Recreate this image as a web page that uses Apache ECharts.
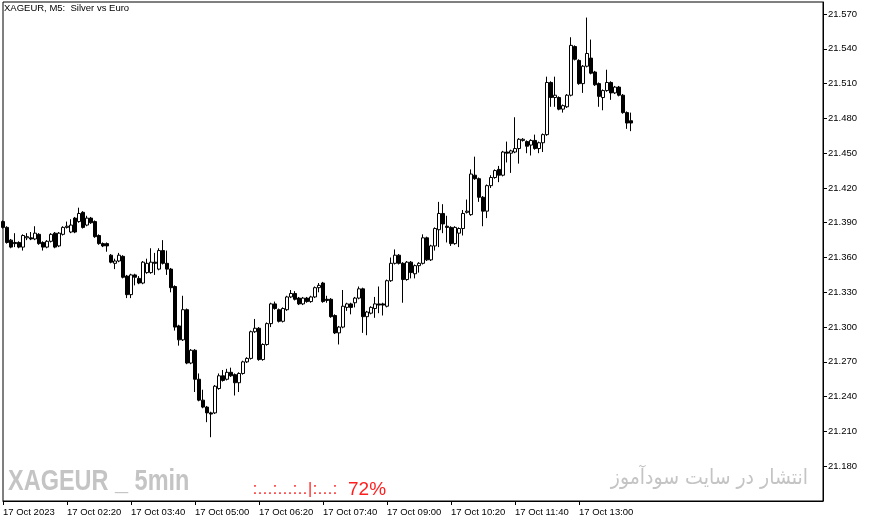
<!DOCTYPE html>
<html><head><meta charset="utf-8">
<script src="https://cdn.jsdelivr.net/npm/echarts@6/dist/echarts.min.js"></script>
<style>html,body{margin:0;padding:0;background:#fff}#c{width:871px;height:522px}</style>
</head><body><div id="c"></div>
<script>
const opens = [
21.391,21.386,21.375,21.373,21.373,21.369,21.377,21.377,21.376,21.380,
21.373,21.369,21.374,21.381,21.370,21.380,21.386,21.382,21.394,21.391,
21.399,21.388,21.394,21.391,21.379,21.372,21.372,21.362,21.355,21.357,
21.361,21.344,21.328,21.345,21.342,21.338,21.347,21.347,21.356,21.350,
21.366,21.355,21.350,21.335,21.301,21.289,21.315,21.269,21.280,21.255,
21.237,21.231,21.226,21.226,21.247,21.258,21.255,21.261,21.259,21.252,
21.260,21.270,21.273,21.296,21.299,21.272,21.285,21.303,21.320,21.315,
21.305,21.315,21.326,21.329,21.325,21.320,21.325,21.322,21.326,21.334,
21.338,21.324,21.324,21.310,21.295,21.300,21.317,21.320,21.321,21.325,
21.333,21.309,21.312,21.316,21.320,21.320,21.318,21.340,21.355,21.362,
21.355,21.341,21.356,21.346,21.353,21.355,21.377,21.358,21.370,21.384,
21.398,21.387,21.386,21.372,21.381,21.385,21.399,21.397,21.431,21.428,
21.412,21.400,21.422,21.429,21.436,21.431,21.451,21.450,21.451,21.454,
21.461,21.460,21.457,21.461,21.454,21.459,21.466,21.511,21.498,21.498,
21.488,21.490,21.500,21.542,21.530,21.510,21.525,21.532,21.520,21.510,
21.498,21.504,21.511,21.502,21.507,21.500,21.485,21.478];
const closes = [
21.386,21.373,21.369,21.372,21.369,21.379,21.378,21.376,21.381,21.372,
21.369,21.374,21.380,21.369,21.381,21.386,21.387,21.388,21.382,21.398,
21.386,21.394,21.390,21.378,21.372,21.370,21.370,21.356,21.357,21.362,
21.343,21.328,21.345,21.343,21.338,21.356,21.355,21.356,21.355,21.366,
21.355,21.350,21.334,21.300,21.289,21.315,21.269,21.280,21.255,21.237,
21.231,21.226,21.225,21.249,21.258,21.254,21.261,21.258,21.252,21.260,
21.270,21.273,21.296,21.299,21.272,21.285,21.303,21.320,21.316,21.305,
21.316,21.326,21.329,21.324,21.320,21.325,21.322,21.326,21.334,21.336,
21.322,21.323,21.309,21.295,21.300,21.318,21.320,21.317,21.325,21.333,
21.309,21.313,21.317,21.320,21.319,21.319,21.340,21.355,21.362,21.355,
21.341,21.356,21.347,21.353,21.355,21.377,21.358,21.370,21.385,21.398,
21.389,21.386,21.372,21.386,21.385,21.398,21.400,21.432,21.428,21.412,
21.400,21.422,21.429,21.435,21.431,21.451,21.450,21.452,21.454,21.462,
21.462,21.456,21.461,21.454,21.459,21.466,21.511,21.498,21.500,21.488,
21.491,21.500,21.543,21.531,21.510,21.525,21.536,21.519,21.509,21.499,
21.504,21.511,21.502,21.507,21.500,21.485,21.476,21.476];
const lows = [
21.385,21.372,21.368,21.369,21.368,21.366,21.375,21.375,21.375,21.371,
21.366,21.368,21.373,21.368,21.369,21.379,21.385,21.381,21.381,21.390,
21.385,21.387,21.389,21.377,21.371,21.369,21.365,21.355,21.350,21.356,
21.342,21.325,21.325,21.336,21.337,21.337,21.346,21.346,21.345,21.349,
21.354,21.345,21.330,21.297,21.284,21.288,21.268,21.268,21.244,21.236,
21.230,21.218,21.205,21.225,21.246,21.253,21.254,21.257,21.241,21.244,
21.259,21.269,21.272,21.295,21.271,21.271,21.284,21.300,21.315,21.304,
21.304,21.314,21.325,21.323,21.319,21.319,21.321,21.321,21.325,21.330,
21.321,21.321,21.308,21.294,21.285,21.299,21.314,21.311,21.317,21.324,
21.295,21.293,21.311,21.308,21.312,21.310,21.317,21.339,21.354,21.354,
21.321,21.340,21.342,21.342,21.347,21.354,21.357,21.357,21.366,21.369,
21.381,21.373,21.370,21.371,21.369,21.379,21.398,21.396,21.427,21.408,
21.387,21.394,21.420,21.428,21.425,21.430,21.442,21.433,21.450,21.441,
21.460,21.450,21.448,21.453,21.450,21.451,21.465,21.490,21.490,21.487,
21.485,21.489,21.499,21.530,21.509,21.502,21.524,21.518,21.508,21.490,
21.487,21.503,21.496,21.501,21.499,21.484,21.471,21.469];
const highs = [
21.392,21.387,21.376,21.381,21.374,21.380,21.381,21.382,21.387,21.381,
21.374,21.375,21.381,21.382,21.382,21.387,21.391,21.393,21.395,21.403,
21.400,21.396,21.395,21.392,21.380,21.373,21.373,21.363,21.359,21.364,
21.362,21.345,21.346,21.346,21.344,21.357,21.359,21.368,21.364,21.368,
21.375,21.366,21.351,21.336,21.302,21.327,21.316,21.281,21.281,21.260,
21.246,21.232,21.227,21.250,21.260,21.263,21.264,21.265,21.260,21.261,
21.271,21.274,21.297,21.307,21.300,21.286,21.304,21.321,21.322,21.316,
21.317,21.327,21.332,21.331,21.326,21.326,21.326,21.327,21.335,21.338,
21.339,21.327,21.325,21.311,21.301,21.332,21.321,21.321,21.326,21.335,
21.334,21.314,21.318,21.326,21.335,21.321,21.341,21.360,21.367,21.363,
21.356,21.357,21.357,21.354,21.356,21.380,21.378,21.371,21.386,21.408,
21.406,21.396,21.387,21.387,21.386,21.401,21.410,21.436,21.447,21.429,
21.413,21.423,21.431,21.436,21.439,21.452,21.460,21.453,21.481,21.463,
21.463,21.461,21.462,21.466,21.460,21.467,21.516,21.512,21.516,21.499,
21.492,21.501,21.550,21.543,21.531,21.526,21.567,21.548,21.521,21.511,
21.505,21.522,21.512,21.508,21.508,21.501,21.486,21.485];
const xTickLabels = ['17 Oct 2023','17 Oct 02:20','17 Oct 03:40','17 Oct 05:00','17 Oct 06:20',
  '17 Oct 07:40','17 Oct 09:00','17 Oct 10:20','17 Oct 11:40','17 Oct 13:00'];
const yTicks = [21.180,21.210,21.240,21.270,21.300,21.330,21.360,21.390,21.420,21.450,21.480,21.510,21.540,21.570];
const titleText = 'XAGEUR, M5:  Silver vs Euro';
const watermarkLeft = 'XAGEUR _ 5min';
const watermarkRight = 'انتشار در سایت سودآموز';
const meterChars = [':','.','.','.',':','.','.','.',':','.','.','|',':','.','.','.',':'];
const meterValue = '72%';

// category slots (5-minute bars starting 01:00) incl. empty right margin
const SLOTS = 206, STEP = 16;
const cats = [];
for (let i = 0; i < SLOTS; i++) {
  const m = 60 + 5 * i;
  cats.push(String(Math.floor(m / 60) % 24).padStart(2, '0') + ':' + String(m % 60).padStart(2, '0'));
}
const candles = opens.map((o, i) => [o, closes[i], lows[i], highs[i]]);
const showIdx = (i) => i % STEP === 0 && (i / STEP) < xTickLabels.length;

const chart = echarts.init(document.getElementById('c'), null, {renderer: 'canvas'});
const FONT = 'Liberation Sans, Arial, sans-serif';
chart.setOption({
  animation: false,
  backgroundColor: '#fff',
  grid: {left: 2, right: 48, top: 2, bottom: 21, show: true, borderColor: '#000', borderWidth: 1, backgroundColor: '#fff'},
  xAxis: {
    type: 'category', data: cats, boundaryGap: false,
    axisLine: {show: true, lineStyle: {color: '#000', width: 1}},
    axisTick: {show: true, interval: (i) => showIdx(i), length: 4, lineStyle: {color: '#000'}},
    axisLabel: {
      interval: (i) => showIdx(i), align: 'left', margin: 6, color: '#000',
      fontSize: 9.5, fontFamily: FONT,
      formatter: (v, i) => showIdx(i) ? xTickLabels[i / STEP] : ''
    },
    splitLine: {show: false}
  },
  yAxis: {
    type: 'value', position: 'right', min: 21.150, max: 21.5804, scale: true,
    axisLine: {show: true, lineStyle: {color: '#000', width: 1}},
    axisTick: {show: true, length: 4, lineStyle: {color: '#000'}, customValues: yTicks},
    axisLabel: {color: '#000', fontSize: 9.5, fontFamily: FONT, margin: 5, customValues: yTicks,
      formatter: (v) => v.toFixed(3)},
    splitLine: {show: false}
  },
  series: [{
    type: 'candlestick', data: candles, barWidth: 3, clip: false,
    itemStyle: {color: '#fff', color0: '#000', borderColor: '#000', borderColor0: '#000', borderWidth: 1}
  }],
  graphic: [
    {type: 'text', x: 4, y: 3, z: 10, style: {text: titleText, font: '9.5px ' + FONT, fill: '#000', align: 'left', verticalAlign: 'top'}},
    {type: 'text', x: 8, y: 467, scaleX: 0.81, z: 10, style: {text: watermarkLeft, font: 'bold 29px "Liberation Sans", Arial', fill: '#c4c4c4', align: 'left', verticalAlign: 'top'}},
    {type: 'text', x: 808, y: 468, scaleX: 0.9, z: 10, style: {text: watermarkRight, font: '21px "DejaVu Sans", "Noto Sans", sans-serif', fill: '#c4c4c4', align: 'right', verticalAlign: 'top'}},
    {type: 'text', x: 252.5, y: 482, z: 10, style: {
      text: meterChars.map(c => '{d|' + c + '}').join(''),
      rich: {d: {width: 5, align: 'center', font: '16px ' + FONT, fill: '#ff1e1e'}},
      align: 'left', verticalAlign: 'top'}},
    {type: 'text', x: 348, y: 480, z: 10, style: {text: meterValue, font: '19px ' + FONT, fill: '#ff1e1e', align: 'left', verticalAlign: 'top'}}
  ]
});
</script></body></html>
